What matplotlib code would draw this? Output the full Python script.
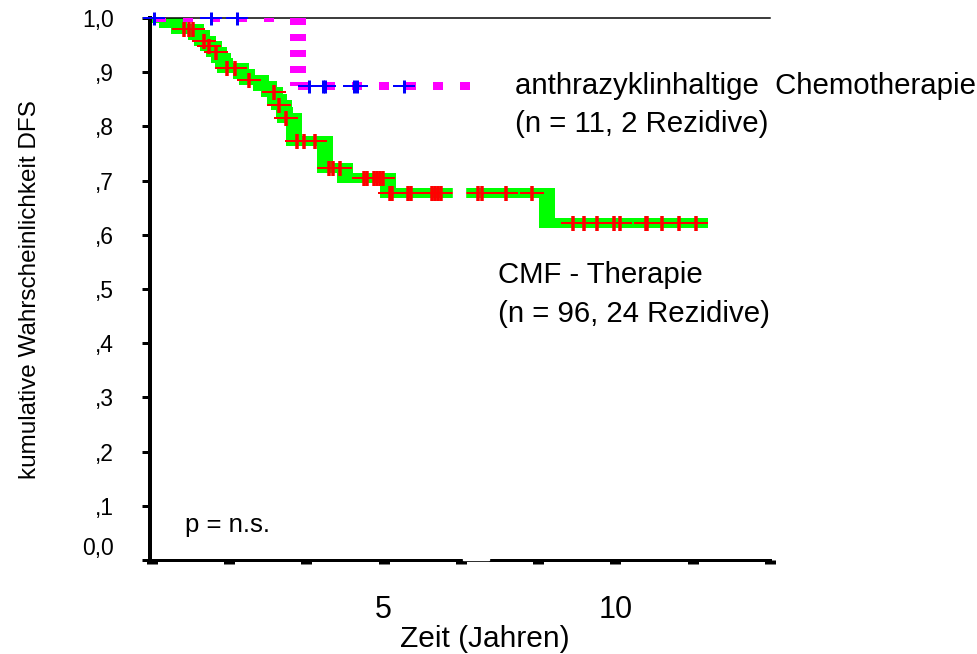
import numpy as np
import matplotlib
matplotlib.use("Agg")
import matplotlib.pyplot as plt
from matplotlib.collections import LineCollection
from matplotlib.patches import Rectangle

plt.rcParams['font.family'] = ['Liberation Sans', 'DejaVu Sans']
plt.rcParams['lines.scale_dashes'] = False

DPI = 100
W, H = 977, 654
PX = 72.0 / DPI  # points per pixel

# CMF therapy: Kaplan-Meier steps (years, cumulative DFS after the step)
cmf_times = [0.0, 0.32, 0.58, 0.95, 1.08, 1.21, 1.34, 1.45, 1.54, 1.58, 1.93,
             2.06, 2.36, 2.53, 2.66, 2.73, 2.84, 2.88, 3.07, 3.74, 4.16, 5.09, 8.53]
cmf_surv = [1.000, 0.990, 0.979, 0.968, 0.958, 0.948, 0.938, 0.927, 0.917, 0.907,
            0.896, 0.885, 0.874, 0.863, 0.851, 0.839, 0.827, 0.816, 0.773, 0.723,
            0.704, 0.678, 0.621]
cmf_end = 12.0
cmf_censored = [0.69, 0.80, 0.89, 1.13, 1.23, 1.39, 1.62, 1.80, 2.10, 2.64, 2.75,
                2.90, 3.12, 3.29, 3.51, 3.81, 3.90, 4.05, 4.57, 4.63, 4.78, 4.85,
                4.91, 4.98, 5.13, 5.17, 5.52, 5.58, 6.04, 6.10, 6.17, 6.23, 7.03,
                7.12, 7.64, 8.20, 9.09, 9.31, 9.61, 9.96, 10.09, 10.65, 10.69,
                11.00, 11.36, 11.73]

# anthracycline-containing chemotherapy
anth_times = [0.0, 3.14]
anth_surv = [1.000, 0.875]
anth_end = 6.9
anth_censored = [0.05, 1.28, 1.84, 3.38, 3.68, 3.74, 4.35, 4.42, 5.43]

y_ticks = [0.0, 0.1, 0.2, 0.3, 0.4, 0.5, 0.6, 0.7, 0.8, 0.9, 1.0]
y_tick_labels = ['', ',1', ',2', ',3', ',4', ',5', ',6', ',7', ',8', ',9', '1,0']
x_tick_step = 5.0 / 3.0
x_max = 40.0 / 3.0
x_tick_text = {5: '5', 10: '10'}

GREEN = '#00ff00'
RED = '#ff0000'
BLUE = '#0000ff'
MAGENTA = '#ff00ff'


def step_segments(times, surv, end):
    horiz, vert = [], []
    for i in range(len(times)):
        t1 = times[i + 1] if i + 1 < len(times) else end
        horiz.append([(times[i], surv[i]), (t1, surv[i])])
        if i + 1 < len(times):
            vert.append([(t1, surv[i]), (t1, surv[i + 1])])
    return horiz, vert


def surv_at(times, surv, t):
    idx = np.searchsorted(times, t, side='right') - 1
    return np.asarray(surv)[idx]


fig = plt.figure(figsize=(W / DPI, H / DPI), dpi=DPI)
ax_l, ax_r, ax_t, ax_b = 150, 770, 18, 560
ax = fig.add_axes([ax_l / W, 1 - ax_b / H, (ax_r - ax_l) / W, (ax_b - ax_t) / H])
ax.set_xlim(-2.0 / 46.4, x_max)
ax.set_ylim(0, 1.0)

# data units per pixel in y (for joining thick step corners)
dy_px = 1.0 / (ax_b - ax_t)

# --- CMF curve: thick green step line ---
h, v = step_segments(cmf_times, cmf_surv, cmf_end)
ax.add_collection(LineCollection(h, colors=GREEN, linewidths=10 * PX,
                                 capstyle='butt', zorder=2))
v_ext = [[(a[0], a[1] + 5 * dy_px), (b[0], b[1] - 5 * dy_px)] for a, b in v]
ax.add_collection(LineCollection(v_ext, colors=GREEN, linewidths=16 * PX,
                                 capstyle='butt', zorder=2))

# censored CMF cases
cy = surv_at(cmf_times, cmf_surv, cmf_censored)
ax.plot(cmf_censored, cy, ls='none', marker='_', ms=24 * PX, mew=2 * PX,
        color=RED, zorder=3)
ax.plot(cmf_censored, cy, ls='none', marker='|', ms=15 * PX, mew=3.5 * PX,
        color=RED, zorder=3)

# --- anthracycline curve: thick magenta dashes ---
h, v = step_segments(anth_times, anth_surv, anth_end)
offsets = [23 * PX, 0]
for seg, off in zip(h, offsets):
    (x0, y0), (x1, y1) = seg
    ax.plot([x0, x1], [y0, y1], color=MAGENTA, lw=8 * PX, solid_capstyle='butt',
            dash_capstyle='butt', ls=(off, (10 * PX, 17 * PX)), zorder=4)
for (x0, y0), (x1, y1) in v:
    ax.plot([x0, x1], [y0, y1], color=MAGENTA, lw=16 * PX,
            dash_capstyle='butt', ls=(0, (7 * PX, 9 * PX)), zorder=4)

ay = surv_at(anth_times, anth_surv, anth_censored)
ax.plot(anth_censored, ay, ls='none', marker='_', ms=22 * PX, mew=2 * PX,
        color=BLUE, zorder=5, clip_on=False)
ax.plot(anth_censored, ay, ls='none', marker='|', ms=13 * PX, mew=3 * PX,
        color=BLUE, zorder=5, clip_on=False)

# --- axes frame and ticks ---
ax.spines['left'].set_linewidth(4 * PX)
ax.spines['bottom'].set_linewidth(3 * PX)
ax.spines['right'].set_visible(False)
ax.spines['top'].set_linewidth(1.5 * PX)

ax.set_yticks(y_ticks)
ax.set_yticklabels(y_tick_labels)
ax.tick_params(axis='y', direction='out', length=8 * PX, width=3 * PX,
               pad=20, labelsize=16.5)

xt = np.arange(0, x_max + 1e-6, x_tick_step)
ax.set_xticks(xt)
ax.set_xticklabels([x_tick_text.get(int(round(t)), '') if abs(t - round(t)) < 1e-6
                    else '' for t in xt])
ax.tick_params(axis='x', direction='out', length=3.5 * PX, width=11 * PX,
               pad=23, labelsize=22)

ax.annotate('0,0', xy=(0, 0), xycoords=('axes fraction', 'data'),
            xytext=(-(8 * PX + 20), 12 * PX), textcoords='offset points',
            ha='right', va='center', fontsize=16.5)

fig.text(485 / W, 1 - 639 / H, 'Zeit (Jahren)', ha='center', va='center',
         fontsize=21.5)
fig.text(30 / W, 1 - 290 / H, 'kumulative Wahrscheinlichkeit DFS',
         ha='center', va='center', rotation=90, fontsize=17.5)

# group annotations
fig.text(515 / W, 1 - 86 / H, 'anthrazyklinhaltige  Chemotherapie',
         ha='left', va='center', fontsize=21.2)
fig.text(515 / W, 1 - 124 / H, '(n = 11, 2 Rezidive)',
         ha='left', va='center', fontsize=21.2)
fig.text(498 / W, 1 - 275 / H, 'CMF - Therapie',
         ha='left', va='center', fontsize=21.2)
fig.text(498 / W, 1 - 314 / H, '(n = 96, 24 Rezidive)',
         ha='left', va='center', fontsize=21.2)
fig.text(185 / W, 1 - 525 / H, 'p = n.s.', ha='left', va='center', fontsize=18.5)

# small blank patches over the curve and the baseline
fig.add_artist(Rectangle((453 / W, 1 - 200 / H), 12 / W, 15 / H,
                         transform=fig.transFigure, color='white', zorder=10))
fig.add_artist(Rectangle((463 / W, 1 - 560 / H), 26 / W, 3 / H,
                         transform=fig.transFigure, color='white', zorder=10))

fig.savefig('out.png', dpi=DPI)
